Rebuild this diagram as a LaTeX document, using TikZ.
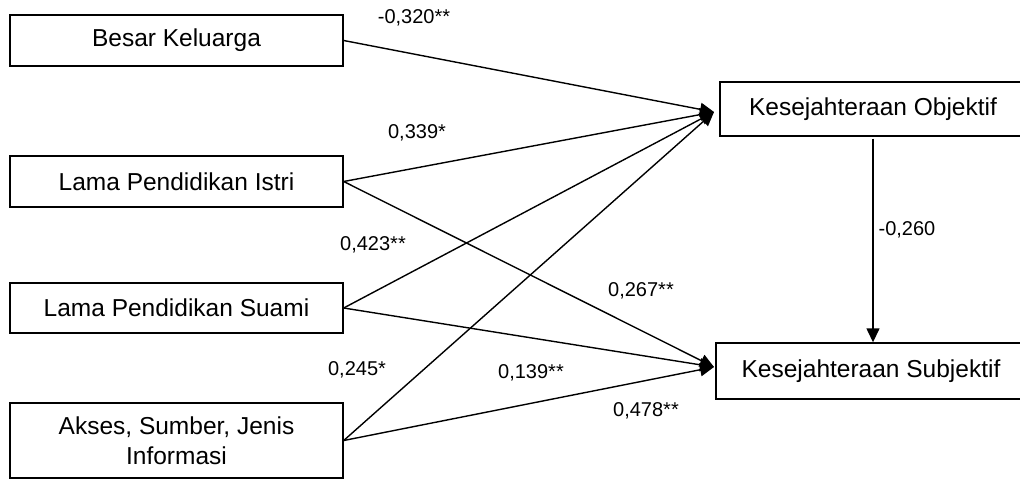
\documentclass[tikz,border=0pt]{standalone}
\usepackage{fontspec}
\setmainfont{Liberation Sans}
\usetikzlibrary{arrows.meta}
\begin{document}
\begin{tikzpicture}[x=1pt,y=-1pt,
  box/.style={draw,line width=1.4pt,inner sep=0pt,align=center,
    font=\fontsize{24.5}{29}\selectfont},
  lbl/.style={inner sep=0pt,font=\fontsize{20}{24}\selectfont},
  conn/.style={line width=1.4pt,-{Triangle[length=14pt,width=13pt]}}]
\useasboundingbox (0,0) rectangle (1020,479);
\clip (0,0) rectangle (1020,479);
\fill[white] (0,0) rectangle (1020,479);
\node[box,minimum width=333pt,minimum height=51pt] (besar) at (176.5,40.5) {Besar Keluarga};
\node[box,minimum width=333pt,minimum height=51pt] (istri) at (176.5,181.5) {Lama Pendidikan Istri};
\node[box,minimum width=333pt,minimum height=50pt] (suami) at (176.5,308) {Lama Pendidikan Suami};
\node[box,minimum width=333pt,minimum height=75pt] (akses) at (176.5,440.5) {Akses, Sumber, Jenis\\[1pt]Informasi};
\node[box,minimum width=306pt,minimum height=54pt] (obj) at (873,109) {Kesejahteraan Objektif};
\node[box,minimum width=310pt,minimum height=56pt] (subj) at (871,371) {Kesejahteraan Subjektif};
\coordinate (objin) at (714,112);
\coordinate (subjin) at (714,367);
\draw[conn] (besar.east) -- (objin);
\draw[conn] (istri.east) -- (objin);
\draw[conn] (suami.east) -- (objin);
\draw[conn] (akses.east) -- (objin);
\draw[conn] (istri.east) -- (subjin);
\draw[conn] (suami.east) -- (subjin);
\draw[conn] (akses.east) -- (subjin);
\draw[conn] ([yshift=-2pt]obj.south) -- (obj.south |- subj.north);
\node[lbl] (l1) at (414,18) {-0,320**};
\node[lbl] (l2) at (417,133) {0,339*};
\node[lbl] (l3) at (373,245) {0,423**};
\node[lbl] (l4) at (641,291) {0,267**};
\node[lbl] (l5) at (357,370) {0,245*};
\node[lbl] (l6) at (531,373) {0,139**};
\node[lbl] (l7) at (646,411) {0,478**};
\node[lbl] (l8) at (907,230) {-0,260};
\end{tikzpicture}
\end{document}
